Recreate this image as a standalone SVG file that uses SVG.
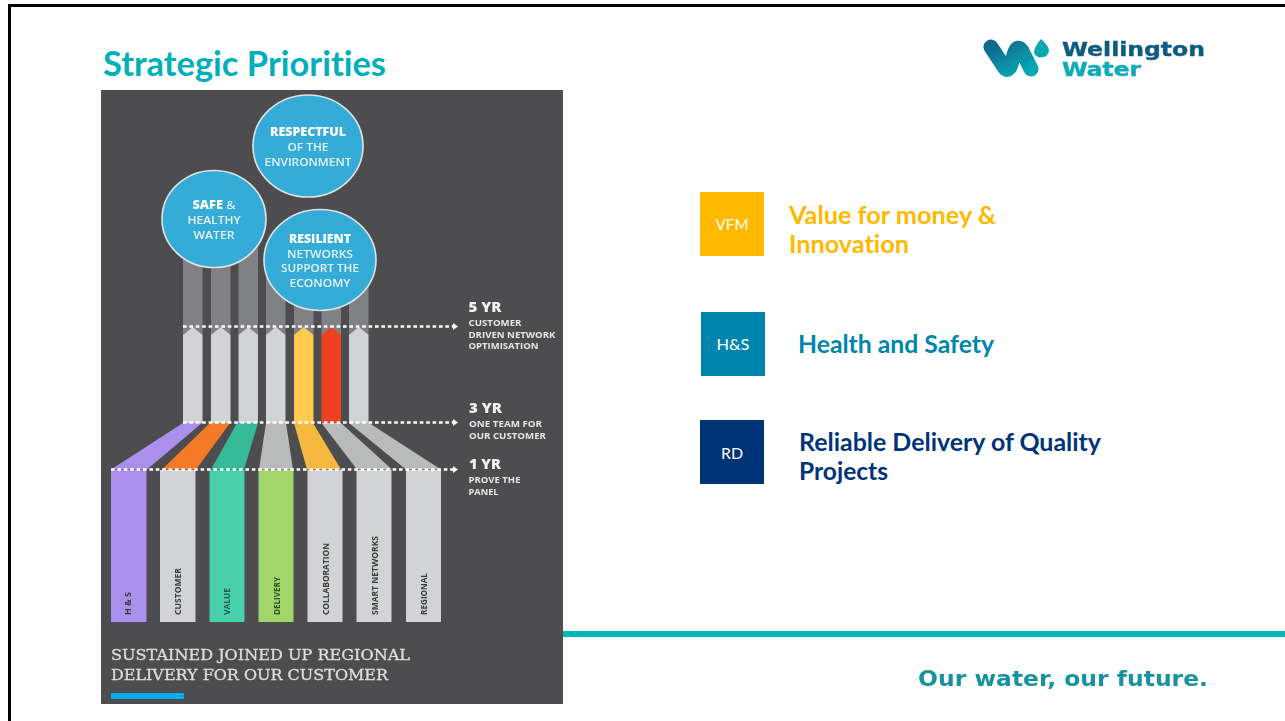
<svg xmlns="http://www.w3.org/2000/svg" width="1285" height="721" viewBox="0 0 1285 721">
<style>
text{font-variant-ligatures:none}
.poster{font-family:"Open Sans","Liberation Sans",sans-serif}
.cb{font-size:11.5px;font-weight:600;fill:#e4f2f8;text-anchor:middle}
.cbb{font-size:11.5px;fill:#fff;text-anchor:middle;font-weight:800}
.yr{font-size:13.5px;font-weight:800;fill:#f2f2f2}
.yl{font-size:9px;font-weight:700;fill:#e6e6e6}
.bar{font-size:9px;font-weight:700;fill:#3c3c3c}
.dash{stroke:#fff;stroke-width:2.4;stroke-dasharray:3.600 2.800;fill:none}
.ah{fill:#fff}
.head{font-family:Lato,"Liberation Sans",sans-serif;font-weight:700;font-size:24px}
.tag{font-family:Lato,"Liberation Sans",sans-serif;font-size:16px;fill:#fff;text-anchor:middle}
.slab{font-family:"DejaVu Serif","Liberation Serif",serif;font-size:15px;fill:#dcdcdc;stroke:#dcdcdc;stroke-width:.35}
.circ{fill:#36acd8;stroke:#dfe3e5;stroke-width:1.600}
</style>
<defs>
<linearGradient id="wg" x1="0" y1="0" x2="1" y2="1"><stop offset="0" stop-color="#0a6a8e"/><stop offset="1" stop-color="#05a9b5"/></linearGradient>
<filter id="soft" x="-5%" y="-5%" width="110%" height="110%"><feGaussianBlur stdDeviation="0.45"/></filter>
</defs>
<rect width="1285" height="721" fill="#fff"/>
<path d="M9.500 721V5.500H1285" fill="none" stroke="#000" stroke-width="3"/>
<text id="title" x="103" y="76" font-family="Lato,'Liberation Sans',sans-serif" font-weight="700" font-size="34" fill="#00b0b9" textLength="283" lengthAdjust="spacingAndGlyphs">Strategic Priorities</text>

<g id="logo" filter="url(#soft)">
<path d="M991 47L1004 67Q1007 72 1010 67L1015 52Q1018 45 1022 51L1031 69" fill="none" stroke="url(#wg)" stroke-width="15" stroke-linecap="round" stroke-linejoin="round"/>
<path d="M1041 39Q1049 46 1049 51A8 8 0 0 1 1034 53Q1034 47 1041 39Z" fill="#08a7b4"/>
<text x="1062" y="56" font-family="'DejaVu Sans',sans-serif" font-weight="700" font-size="19" fill="#105c80" stroke="#105c80" stroke-width=".4" textLength="143" lengthAdjust="spacingAndGlyphs">Wellington</text>
<text x="1062" y="76" font-family="'DejaVu Sans',sans-serif" font-weight="700" font-size="19" fill="#0caab8" stroke="#0caab8" stroke-width=".4" textLength="79" lengthAdjust="spacingAndGlyphs">Water</text>
</g>

<g id="poster" filter="url(#soft)">
<rect x="101" y="90" width="462" height="614" fill="#4d4d4f"/>
<g id="pillars-upper" fill="#808184">
<rect x="183" y="250" width="19.500" height="85"/>
<rect x="211" y="250" width="19.500" height="85"/>
<rect x="238.500" y="240" width="19.500" height="95"/>
<rect x="266" y="270" width="19.500" height="65"/>
<rect x="294" y="290" width="19.500" height="45"/>
<rect x="321.500" y="290" width="19.500" height="45"/>
<rect x="349" y="280" width="19.500" height="55"/>
</g>
<g id="pillars-lower">
<path d="M183 423V335L192.750 327L202.500 335V423Z" fill="#d1d3d4"/>
<path d="M211 423V335L220.750 327L230.500 335V423Z" fill="#d1d3d4"/>
<path d="M238.500 423V335L248.250 327L258 335V423Z" fill="#d1d3d4"/>
<path d="M266 423V335L275.750 327L285.500 335V423Z" fill="#d1d3d4"/>
<path d="M294 423V335L303.750 327L313.500 335V423Z" fill="#ffcb4f"/>
<path d="M321.500 423V335L331.250 327L341 335V423Z" fill="#f04123"/>
<path d="M349 423V335L358.750 327L368.500 335V423Z" fill="#d1d3d4"/>
</g>
<g id="bands">
<path d="M111 469.500L183 423H202L147 469.500Z" fill="#ab8fec"/>
<path d="M162 469.500L210 423H230L196 469.500Z" fill="#f57a28"/>
<path d="M211 469.500L237 423H258L244 469.500Z" fill="#35bb9a"/>
<path d="M259 469.500L266 423H286L293 469.500Z" fill="#b9bbba"/>
<path d="M341 469.500L313 423H294L307 469.500Z" fill="#f5b93f"/>
<path d="M392 469.500L341 423H321.500L357 469.500Z" fill="#b9bbba"/>
<path d="M441 469.500L369 423H349L406 469.500Z" fill="#b9bbba"/>
</g>
<g id="bars">
<rect x="111" y="470" width="35.500" height="152" fill="#ab8fec"/>
<rect x="160" y="470" width="35.500" height="152" fill="#d1d3d4"/>
<rect x="209.500" y="470" width="35" height="152" fill="#48cfac"/>
<rect x="258.500" y="470" width="35" height="152" fill="#a2d66a"/>
<rect x="307.500" y="470" width="35" height="152" fill="#d1d3d4"/>
<rect x="356.500" y="470" width="35" height="152" fill="#d1d3d4"/>
<rect x="406" y="470" width="35" height="152" fill="#d1d3d4"/>
<g class="poster">
<text class="bar" transform="translate(131 615) rotate(-90)" textLength="23">H &amp; S</text>
<text class="bar" transform="translate(181 615) rotate(-90)" textLength="47" lengthAdjust="spacingAndGlyphs">CUSTOMER</text>
<text class="bar" transform="translate(230 615) rotate(-90)" textLength="27" lengthAdjust="spacingAndGlyphs" style="fill:#1b5a48">VALUE</text>
<text class="bar" transform="translate(279.500 615) rotate(-90)" textLength="38" lengthAdjust="spacingAndGlyphs" style="fill:#2f4f1c">DELIVERY</text>
<text class="bar" transform="translate(328.500 615) rotate(-90)" textLength="72" lengthAdjust="spacingAndGlyphs">COLLABORATION</text>
<text class="bar" transform="translate(377.500 615) rotate(-90)" textLength="79" lengthAdjust="spacingAndGlyphs">SMART NETWORKS</text>
<text class="bar" transform="translate(426.500 615) rotate(-90)" textLength="42" lengthAdjust="spacingAndGlyphs">REGIONAL</text>
</g>
</g>
<g id="connectors">
<path class="dash" d="M183 326.500H454"/><path class="ah" d="M453 323L458 326.500L453 330Z"/>
<path class="dash" d="M183 422.500H454"/><path class="ah" d="M453 419L458 422.500L453 426Z"/>
<path class="dash" d="M111 469.500H454"/><path class="ah" d="M453 466L458 469.500L453 473Z"/>
</g>
<g id="circle-safe" class="poster">
<ellipse class="circ" cx="214" cy="219" rx="52" ry="48.500"/>
<text x="214" y="209" class="cbb" textLength="43" lengthAdjust="spacingAndGlyphs">SAFE <tspan font-weight="400">&amp;</tspan></text>
<text x="214" y="224" class="cb" textLength="53" lengthAdjust="spacingAndGlyphs">HEALTHY</text>
<text x="214" y="239" class="cb" textLength="41" lengthAdjust="spacingAndGlyphs">WATER</text>
</g>
<g id="circle-respectful" class="poster">
<ellipse class="circ" cx="308" cy="146" rx="55" ry="51"/>
<text x="308" y="136" class="cbb" textLength="76" lengthAdjust="spacingAndGlyphs">RESPECTFUL</text>
<text x="308" y="151" class="cb" textLength="41" lengthAdjust="spacingAndGlyphs">OF THE</text>
<text x="308" y="166" class="cb" textLength="87" lengthAdjust="spacingAndGlyphs">ENVIRONMENT</text>
</g>
<g id="circle-resilient" class="poster">
<ellipse class="circ" cx="320" cy="260" rx="56" ry="50.500"/>
<text x="320" y="242.500" class="cbb" textLength="62" lengthAdjust="spacingAndGlyphs">RESILIENT</text>
<text x="320" y="257.500" class="cb" textLength="66" lengthAdjust="spacingAndGlyphs">NETWORKS</text>
<text x="320" y="272" class="cb" textLength="78" lengthAdjust="spacingAndGlyphs">SUPPORT THE</text>
<text x="320" y="287" class="cb" textLength="61" lengthAdjust="spacingAndGlyphs">ECONOMY</text>
</g>
<g id="labels" class="poster">
<text x="468.500" y="312" class="yr" textLength="33" lengthAdjust="spacingAndGlyphs">5 YR</text>
<text x="468.500" y="326" class="yl" textLength="53" lengthAdjust="spacingAndGlyphs">CUSTOMER</text>
<text x="468.500" y="337.500" class="yl" textLength="87" lengthAdjust="spacingAndGlyphs">DRIVEN NETWORK</text>
<text x="468.500" y="349" class="yl" textLength="70" lengthAdjust="spacingAndGlyphs">OPTIMISATION</text>
<text x="469" y="413" class="yr" textLength="33" lengthAdjust="spacingAndGlyphs">3 YR</text>
<text x="469" y="427" class="yl" textLength="73" lengthAdjust="spacingAndGlyphs">ONE TEAM FOR</text>
<text x="469" y="439" class="yl" textLength="77" lengthAdjust="spacingAndGlyphs">OUR CUSTOMER</text>
<text x="469" y="468.500" class="yr" textLength="32" lengthAdjust="spacingAndGlyphs">1 YR</text>
<text x="468.500" y="483" class="yl" textLength="52" lengthAdjust="spacingAndGlyphs">PROVE THE</text>
<text x="468.500" y="494.500" class="yl" textLength="30" lengthAdjust="spacingAndGlyphs">PANEL</text>
</g>
<text class="slab" x="111" y="660" textLength="299" lengthAdjust="spacingAndGlyphs">SUSTAINED JOINED UP REGIONAL</text>
<text class="slab" x="111" y="680" textLength="277" lengthAdjust="spacingAndGlyphs">DELIVERY FOR OUR CUSTOMER</text>
<rect x="111" y="693" width="73" height="6" fill="#00aeef"/>
</g>

<rect id="rule" x="563" y="631" width="722" height="6" fill="#00b8bc"/>

<g id="node-vfm">
<rect x="700" y="192" width="64" height="64" fill="#ffb900"/>
<text class="tag" x="732" y="230" textLength="33" lengthAdjust="spacingAndGlyphs">VFM</text>
<text class="head" x="789" y="224" fill="#ffb900" textLength="207" lengthAdjust="spacingAndGlyphs">Value for money &amp;</text>
<text class="head" x="789" y="253" fill="#ffb900" textLength="120" lengthAdjust="spacingAndGlyphs">Innovation</text>
</g>
<g id="node-hs">
<rect x="701" y="312" width="64" height="64" fill="#0085ad"/>
<text class="tag" x="733" y="350" textLength="33" lengthAdjust="spacingAndGlyphs">H&amp;S</text>
<text class="head" x="798" y="353" fill="#0085ad" textLength="196" lengthAdjust="spacingAndGlyphs">Health and Safety</text>
</g>
<g id="node-rd">
<rect x="700" y="420" width="64" height="64" fill="#003478"/>
<text class="tag" x="732" y="459" textLength="22" lengthAdjust="spacingAndGlyphs">RD</text>
<text class="head" x="799" y="451" fill="#003478" textLength="302" lengthAdjust="spacingAndGlyphs">Reliable Delivery of Quality</text>
<text class="head" x="799" y="480" fill="#003478" textLength="89" lengthAdjust="spacingAndGlyphs">Projects</text>
</g>
<text id="tagline" x="918" y="686" font-family="'DejaVu Sans',sans-serif" font-weight="700" font-size="21" fill="#17939f" textLength="290" lengthAdjust="spacingAndGlyphs" filter="url(#soft)">Our water, our future.</text>
</svg>
